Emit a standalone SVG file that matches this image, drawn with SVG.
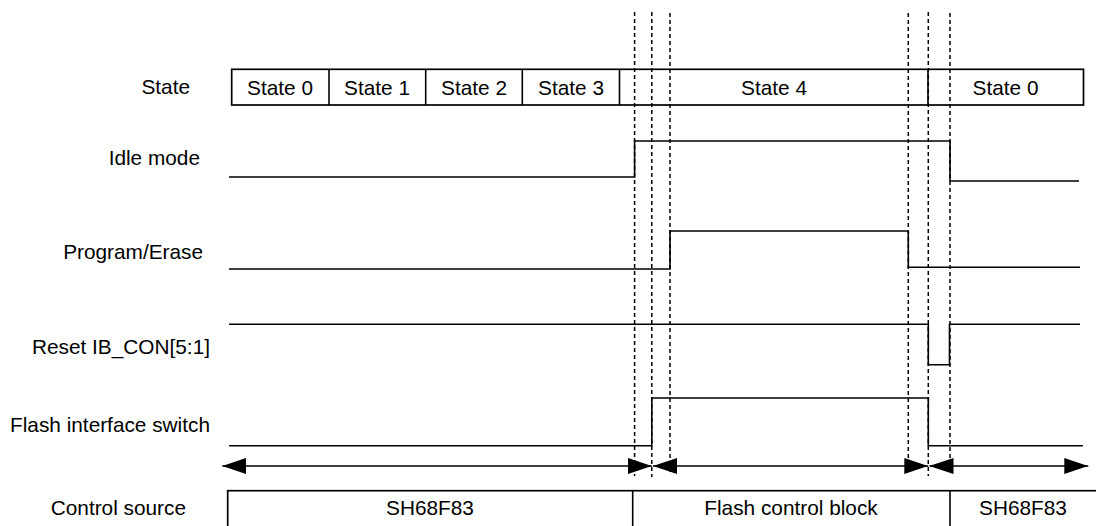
<svg xmlns="http://www.w3.org/2000/svg" width="1096" height="526" viewBox="0 0 1096 526">
<style>
text{font-family:"Liberation Sans",Arial,sans-serif;font-size:20.8px;fill:#000}
.lbl{text-anchor:end}
.c{text-anchor:middle}
.box{fill:#fff;stroke:#000;stroke-width:1.7}
.sig{fill:none;stroke:#000;stroke-width:1.6}
.dash{fill:none;stroke:#000;stroke-width:1.5;stroke-dasharray:4 3}
.arr{fill:none;stroke:#000;stroke-width:1.6}
</style>
<defs>
<marker id="ah" viewBox="0 0 24 16" refX="24" refY="8" markerWidth="24" markerHeight="16" markerUnits="userSpaceOnUse" orient="auto-start-reverse">
<path d="M0,0 L24,8 L0,16 z" fill="#000"/>
</marker>
</defs>
<rect width="1096" height="526" fill="#fff"/>
<g id="labels">
<text class="lbl" x="190" y="94">State</text>
<text class="lbl" x="200" y="165">Idle mode</text>
<text class="lbl" x="203" y="259">Program/Erase</text>
<text class="lbl" x="210" y="354">Reset IB_CON[5:1]</text>
<text class="lbl" x="210" y="432">Flash interface switch</text>
<text class="lbl" x="186" y="515">Control source</text>
</g>
<g id="state-row">
<rect class="box" x="231.7" y="69.3" width="851.8" height="35.7"/>
<line class="sig" x1="329" y1="69.3" x2="329" y2="105" stroke-width="1.7"/>
<line class="sig" x1="425.7" y1="69.3" x2="425.7" y2="105" stroke-width="1.7"/>
<line class="sig" x1="522.3" y1="69.3" x2="522.3" y2="105" stroke-width="1.7"/>
<line class="sig" x1="619.5" y1="69.3" x2="619.5" y2="105" stroke-width="1.7"/>
<line class="sig" x1="928" y1="69.3" x2="928" y2="105" stroke-width="1.7"/>
<text class="c" x="280" y="94.5">State 0</text>
<text class="c" x="377" y="94.5">State 1</text>
<text class="c" x="474" y="94.5">State 2</text>
<text class="c" x="571" y="94.5">State 3</text>
<text class="c" x="774" y="94.5">State 4</text>
<text class="c" x="1005.5" y="94.5">State 0</text>
</g>
<g id="guides">
<line class="dash" x1="634.6" y1="12" x2="634.6" y2="476"/>
<line class="dash" x1="651.8" y1="12" x2="651.8" y2="477"/>
<line class="dash" x1="670" y1="13" x2="670" y2="475"/>
<line class="dash" x1="908.3" y1="13" x2="908.3" y2="475"/>
<line class="dash" x1="928.3" y1="12" x2="928.3" y2="476"/>
<line class="dash" x1="950" y1="13" x2="950" y2="475"/>
</g>
<g id="idle-mode">
<polyline class="sig" points="229,177 634.6,177 634.6,141 950,141 950,181 1079,181"/>
</g>
<g id="program-erase">
<polyline class="sig" points="229,269 670,269 670,231 908.3,231 908.3,267.3 1080,267.3"/>
</g>
<g id="reset-ibcon">
<polyline class="sig" points="229,324.3 928.3,324.3 928.3,364.7 949.5,364.7 949.5,324.3 1080,324.3"/>
</g>
<g id="flash-switch">
<polyline class="sig" points="229,445.7 651.8,445.7 651.8,398 928.3,398 928.3,445.7 1083,445.7"/>
</g>
<g id="connectors">
<line class="arr" x1="222.3" y1="466" x2="651.8" y2="466" marker-start="url(#ah)" marker-end="url(#ah)"/>
<line class="arr" x1="653" y1="466" x2="928.3" y2="466" marker-start="url(#ah)" marker-end="url(#ah)"/>
<line class="arr" x1="929.5" y1="466" x2="1088.3" y2="466" marker-start="url(#ah)" marker-end="url(#ah)"/>
</g>
<g id="control-source">
<rect class="box" x="227.7" y="490.7" width="880" height="50"/>
<line class="sig" x1="632.7" y1="490.7" x2="632.7" y2="526" stroke-width="1.7"/>
<line class="sig" x1="950" y1="490.7" x2="950" y2="526" stroke-width="1.7"/>
<text class="c" x="430" y="515">SH68F83</text>
<text class="c" x="791" y="515">Flash control block</text>
<text class="c" x="1023" y="515">SH68F83</text>
</g>
</svg>
